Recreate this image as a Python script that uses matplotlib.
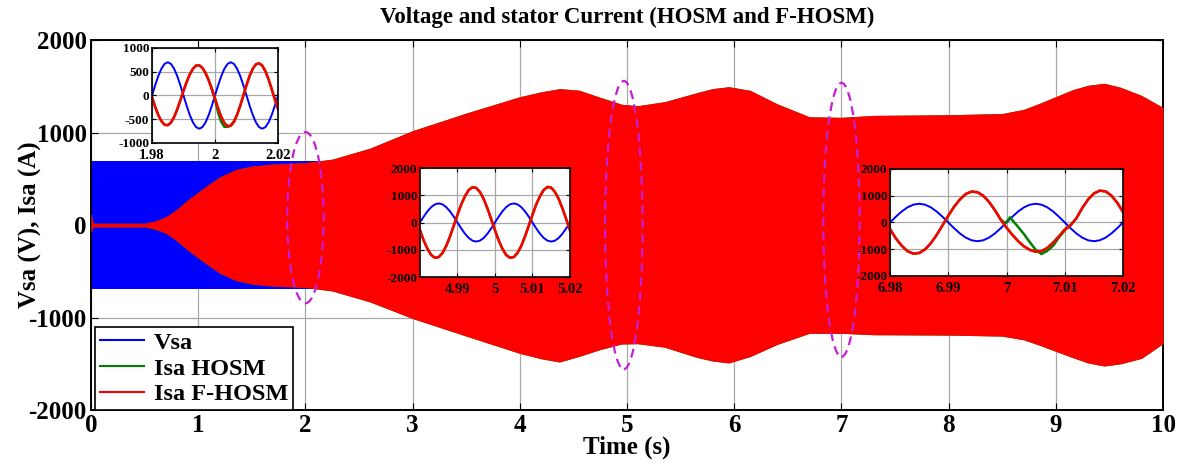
import matplotlib
matplotlib.use("Agg")
import matplotlib.pyplot as plt
from matplotlib.patches import Ellipse

# ---- main plot: envelope of the 50 Hz signals ----
t_env = [0, 0.02, 0.5, 0.6, 0.7, 0.8, 0.9, 1.05, 1.2, 1.35, 1.5, 1.7, 2.0,
         2.25, 2.6, 3.0, 3.5, 4.0, 4.2, 4.37, 4.55, 4.75, 4.95, 5.1, 5.35,
         5.65, 5.8, 5.95, 6.15, 6.4, 6.7, 7.0, 7.3, 8.0, 8.5, 8.7, 8.85, 9.15,
         9.3, 9.45, 9.6, 9.8, 10]
isa_upper = [130, 20, 20, 45, 90, 170, 270, 400, 520, 600, 638, 660, 675,
             712, 830, 1020, 1210, 1387, 1440, 1474, 1458, 1380, 1305, 1290,
             1333, 1430, 1475, 1495, 1455, 1310, 1170, 1164, 1185, 1192, 1205,
             1250, 1316, 1460, 1510, 1532, 1490, 1400, 1270]
isa_lower = [-80, -20, -20, -45, -90, -170, -270, -400, -520, -600, -638,
             -660, -675, -712, -830, -1010, -1200, -1387, -1445, -1480, -1420,
             -1345, -1285, -1282, -1320, -1430, -1470, -1490, -1420, -1290,
             -1170, -1170, -1185, -1189, -1200, -1240, -1300, -1430, -1490,
             -1523, -1500, -1440, -1280]
t_vsa = [0, 10]
vsa_peak = 695

# zoom windows (start time, ms offsets)
zoom_starts = [1.98, 4.98, 6.98]
zoom_ms = list(range(41))

vsa_zoom = [0, 216, 411, 566, 666, 700, 666, 566, 411, 216,
            0, -216, -411, -566, -666, -700, -666, -566, -411, -216,
            0, 216, 411, 566, 666, 700, 666, 566, 411, 216,
            0, -216, -411, -566, -666, -700, -666, -566, -411, -216, 0]

isa_f_2s = [-30, -239, -412, -542, -616, -626, -571, -456, -294, -102,
            98, 285, 445, 564, 629, 635, 581, 473, 320, 137,
            -66, -276, -456, -584, -645, -635, -552, -406, -217, 0,
            218, 414, 565, 657, 679, 628, 511, 340, 133, -84, -285]
isa_h_2s_ms = [19, 20, 21, 22, 23, 24, 25, 26]
isa_h_2s = [137, -90, -360, -560, -660, -660, -636, -552]

isa_f_5s = [-284, -661, -966, -1193, -1294, -1269, -1119, -862, -516, -122,
            284, 661, 966, 1193, 1294, 1269, 1119, 862, 516, 122,
            -284, -661, -966, -1193, -1294, -1269, -1119, -862, -516, -122,
            284, 661, 966, 1193, 1305, 1280, 1119, 862, 516, 122, -284]

isa_f_7s = [-250, -596, -869, -1074, -1165, -1142, -1007, -776, -464, -110,
            253, 590, 862, 1065, 1155, 1132, 999, 769, 461, 109,
            -196, -462, -700, -892, -1025, -1092, -1075, -950, -755, -520,
            -265, -100, 160, 539, 859, 1084, 1189, 1163, 1007, 741, 393]
isa_h_7s_ms = [19, 19.8, 20.6, 21, 22, 23, 24, 25, 26, 27, 28, 29, 30, 31]
isa_h_7s = [109, -30, 190, 87, -170, -437, -738, -1020, -1180, -1060, -870,
            -560, -290, -100]

plt.rcParams["font.family"] = ["Liberation Serif", "DejaVu Serif"]
plt.rcParams["font.weight"] = "bold"
plt.rcParams["axes.unicode_minus"] = False

BLUE, GREEN, RED = "#0000ff", "#008000", "#ff0000"

fig = plt.figure(figsize=(11.82, 4.65), dpi=100)
ax = fig.add_axes([0.077, 0.118, 0.907, 0.796])

ax.fill_between(t_vsa, [-vsa_peak] * 2, [vsa_peak] * 2, color=BLUE, lw=0, zorder=2)
ax.fill_between(t_env, isa_lower, isa_upper, color=GREEN, lw=0, zorder=3)
ax.fill_between(t_env, isa_lower, isa_upper, color=RED, lw=0, zorder=4)
ax.plot([], [], color=BLUE, lw=1.5, label="Vsa")
ax.plot([], [], color=GREEN, lw=1.5, label="Isa HOSM")
ax.plot([], [], color=RED, lw=1.5, label="Isa F-HOSM")

for cx, cy, w, h in [(2.0, 80, 0.34, 1850), (4.97, 0, 0.35, 3115), (7.0, 57, 0.34, 2960)]:
    ax.add_patch(Ellipse((cx, cy), w, h, fill=False, edgecolor="#c51fd6",
                         lw=1.6, ls=(0, (4, 2.5)), zorder=5))

ax.set_xlim(0, 10)
ax.set_ylim(-2000, 2000)
ax.set_xticks(range(0, 11))
ax.set_yticks([-2000, -1000, 0, 1000, 2000])
ax.grid(True, color="#a8a8a8", lw=0.9)
ax.set_axisbelow(True)
ax.tick_params(direction="in", top=True, right=True, labelsize=18, length=5, pad=3)
for s in ax.spines.values():
    s.set_linewidth(1.4)
ax.set_xlabel("Time (s)", fontsize=18, fontweight="bold", labelpad=-1)
ax.set_ylabel("Vsa (V), Isa (A)", fontsize=18, fontweight="bold")
ax.yaxis.set_label_coords(-0.046, 0.5)
ax.set_title("Voltage and stator Current (HOSM and F-HOSM)", fontsize=16.5,
             fontweight="bold", pad=12)

leg = ax.legend(loc="lower left", bbox_to_anchor=(0.004, 0.0), borderaxespad=0,
                fontsize=17.5, fancybox=False, edgecolor="black", framealpha=1,
                handlelength=1.8, labelspacing=0.15, borderpad=0.2,
                handletextpad=0.4)
leg.get_frame().set_linewidth(1.2)
leg.set_zorder(6)

# ---- zoomed insets ----
inset_rects = [[0.1286, 0.6925, 0.1066, 0.2043],
               [0.3553, 0.4043, 0.1269, 0.2344],
               [0.7530, 0.4065, 0.1971, 0.2301]]
inset_red = [isa_f_2s, isa_f_5s, isa_f_7s]
inset_green = [(isa_h_2s_ms, isa_h_2s), None, (isa_h_7s_ms, isa_h_7s)]
inset_ylim = [(-1000, 1000), (-2000, 2000), (-2000, 2000)]
inset_yticks = [[-1000, -500, 0, 500, 1000], [-2000, -1000, 0, 1000, 2000],
                [-2000, -1000, 0, 1000, 2000]]
inset_xticks = [[1.98, 2.0, 2.02], [4.99, 5.0, 5.01, 5.02],
                [6.98, 6.99, 7.0, 7.01, 7.02]]
inset_xlabels = [["1.98", "2", "2.02"], ["4.99", "5", "5.01", "5.02"],
                 ["6.98", "6.99", "7", "7.01", "7.02"]]

for i, rect in enumerate(inset_rects):
    t0 = zoom_starts[i]
    t = [t0 + m / 1000 for m in zoom_ms]
    ia = fig.add_axes(rect, facecolor="white", zorder=10)
    ia.plot(t, vsa_zoom, color=BLUE, lw=1.4)
    ia.plot(t, inset_red[i], color=GREEN, lw=1.8)
    if inset_green[i] is not None:
        gm, gv = inset_green[i]
        ia.plot([t0 + m / 1000 for m in gm], gv, color=GREEN, lw=1.8)
    ia.plot(t, inset_red[i], color=RED, lw=1.8)
    ia.set_xlim(t0, t0 + 0.04)
    ia.set_ylim(*inset_ylim[i])
    ia.set_yticks(inset_yticks[i])
    ia.set_xticks(inset_xticks[i])
    ia.set_xticklabels(inset_xlabels[i])
    ia.grid(True, color="#a8a8a8", lw=0.9)
    ia.set_axisbelow(True)
    ia.tick_params(axis="y", labelsize=9.5, pad=2)
    ia.tick_params(axis="x", labelsize=10.5, pad=4)
    ia.tick_params(direction="in", top=True, right=True, length=3)
    for s in ia.spines.values():
        s.set_linewidth(1.2)

fig.savefig("out.png", dpi=100)
